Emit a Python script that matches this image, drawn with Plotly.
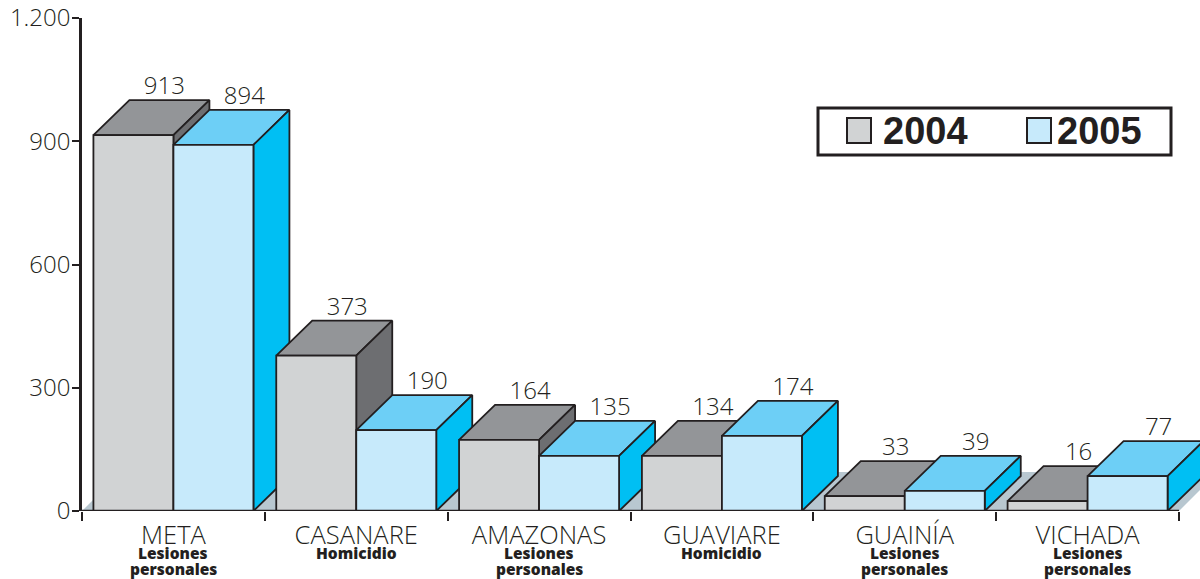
import plotly.graph_objects as go

categories = ["META", "CASANARE", "AMAZONAS", "GUAVIARE", "GUAINÍA", "VICHADA"]
offences = [["Lesiones", "personales"], ["Homicidio"], ["Lesiones", "personales"],
            ["Homicidio"], ["Lesiones", "personales"], ["Lesiones", "personales"]]
series_names = ["2004", "2005"]
labels_2004 = [913, 373, 164, 134, 33, 16]
labels_2005 = [894, 190, 135, 174, 39, 77]
# bar heights as drawn in the picture (they sit slightly off the printed labels)
heights_2004 = [915, 378, 173, 134, 36, 24]
heights_2005 = [891, 197, 134, 183, 49, 85]
y_ticks = [0, 300, 600, 900, 1200]
y_tick_labels = ["0", "300", "600", "900", "1.200"]

PLOT_W = 1118
PLOT_H = 493
PX_X = 1097 / 6
PX_Y = PLOT_H / 1200
BAR_W = 80 / PX_X
DX = 36 / PX_X
DY = 35 / PX_Y
FLOOR = 39 / PX_Y
INK = "#231f20"
TXT = "#231f20"
FONT = "Open Sans"

STYLE = {
    "2004": dict(front="#d1d3d4", top="#939598", side="#6d6e71"),
    "2005": dict(front="#c7eafb", top="#6dcff6", side="#00bff3"),
}


def px(x):
    return (x - 82) / PLOT_W


def py(y):
    return (511 - y) / PLOT_H


def poly(xs, ys, color):
    return go.Scatter(x=xs + xs[:1], y=ys + ys[:1], mode="lines", fill="toself",
                      fillcolor=color, line=dict(color=INK, width=1.8),
                      hoverinfo="skip", showlegend=False)


fig = go.Figure()

fig.add_trace(go.Scatter(x=[0, 6, 6 + 39 / PX_X, 39 / PX_X, 0],
                         y=[0, 0, FLOOR, FLOOR, 0], mode="lines", fill="toself",
                         fillcolor="#b8c7d0", line=dict(width=0),
                         hoverinfo="skip", showlegend=False))

for i in range(len(categories)):
    c = i + 0.5
    for k, (name, h) in enumerate(zip(series_names, (heights_2004[i], heights_2005[i]))):
        x0 = c + (k - 1) * BAR_W
        x1 = x0 + BAR_W
        st = STYLE[name]
        fig.add_trace(poly([x0, x1, x1 + DX, x0 + DX], [h, h, h + DY, h + DY], st["top"]))
        fig.add_trace(poly([x1, x1 + DX, x1 + DX, x1], [0, DY, h + DY, h], st["side"]))
        fig.add_trace(poly([x0, x1, x1, x0], [0, 0, h, h], st["front"]))

# value labels
for k, (labels, heights) in enumerate(((labels_2004, heights_2004), (labels_2005, heights_2005))):
    fig.add_trace(go.Scatter(
        x=[i + 0.5 + (k - 0.5) * BAR_W + DX / 2 + 13 / PX_X for i in range(6)],
        y=[h + DY + 12 / PX_Y for h in heights],
        text=[str(v) for v in labels], mode="text", textposition="middle center",
        textfont=dict(family=FONT, size=24, color=TXT, weight=300),
        hoverinfo="skip", showlegend=False, cliponaxis=False))

for i, lines in enumerate(offences):
    for j, txt in enumerate(lines):
        fig.add_annotation(x=i + 0.5, xref="x", y=py(553 + 16 * j), yref="paper",
                           yanchor="middle", text=txt, showarrow=False, align="center",
                           font=dict(family=FONT, size=15.5, color=INK, weight=800))

fig.add_shape(type="line", x0=0, x1=6, y0=0, y1=0, xref="x", yref="y",
              line=dict(color=INK, width=2.5), layer="above")

# legend box
fig.add_shape(type="rect", xref="paper", yref="paper", x0=px(818), x1=px(1171),
              y0=py(155), y1=py(108), line=dict(color=INK, width=3), fillcolor="white",
              layer="above")
for name, sx, tx in zip(series_names, (847, 1027), (884, 1058)):
    fig.add_shape(type="rect", xref="paper", yref="paper", x0=px(sx), x1=px(sx + 24),
                  y0=py(143), y1=py(118), line=dict(color=INK, width=2),
                  fillcolor=STYLE[name]["front"], layer="above")
    fig.add_annotation(x=px(tx), xref="paper", xanchor="left", y=py(131), yref="paper",
                       yanchor="middle", text=name, showarrow=False, xshift=-3,
                       font=dict(family="Liberation Sans", size=38, color=INK, weight=700))

fig.update_layout(
    width=1200, height=579, autosize=False, showlegend=False,
    margin=dict(l=82, r=0, t=18, b=68, autoexpand=False),
    paper_bgcolor="white", plot_bgcolor="white",
    xaxis=dict(range=[0, PLOT_W / PX_X], showgrid=False, zeroline=False, showline=False,
               automargin=False, tickmode="array", tickvals=[i + 0.5 for i in range(6)],
               ticktext=categories, ticks="", ticklabelstandoff=6,
               tickfont=dict(family=FONT, size=25.5, color=TXT, weight=300),
               minor=dict(tickmode="array", tickvals=list(range(7)), ticks="outside",
                          ticklen=9, tickwidth=2, tickcolor=INK)),
    yaxis=dict(range=[0, 1200], showgrid=False, zeroline=False, showline=True,
               automargin=False, linecolor=INK, linewidth=2.5, tickmode="array",
               tickvals=y_ticks, ticktext=y_tick_labels, ticks="outside", ticklen=7,
               tickwidth=2, tickcolor=INK, ticklabelstandoff=-3,
               tickfont=dict(family=FONT, size=24, color=TXT, weight=300)),
)

fig.write_html("out.html", config={"displayModeBar": False},
               post_script="document.body.style.margin='0';")
